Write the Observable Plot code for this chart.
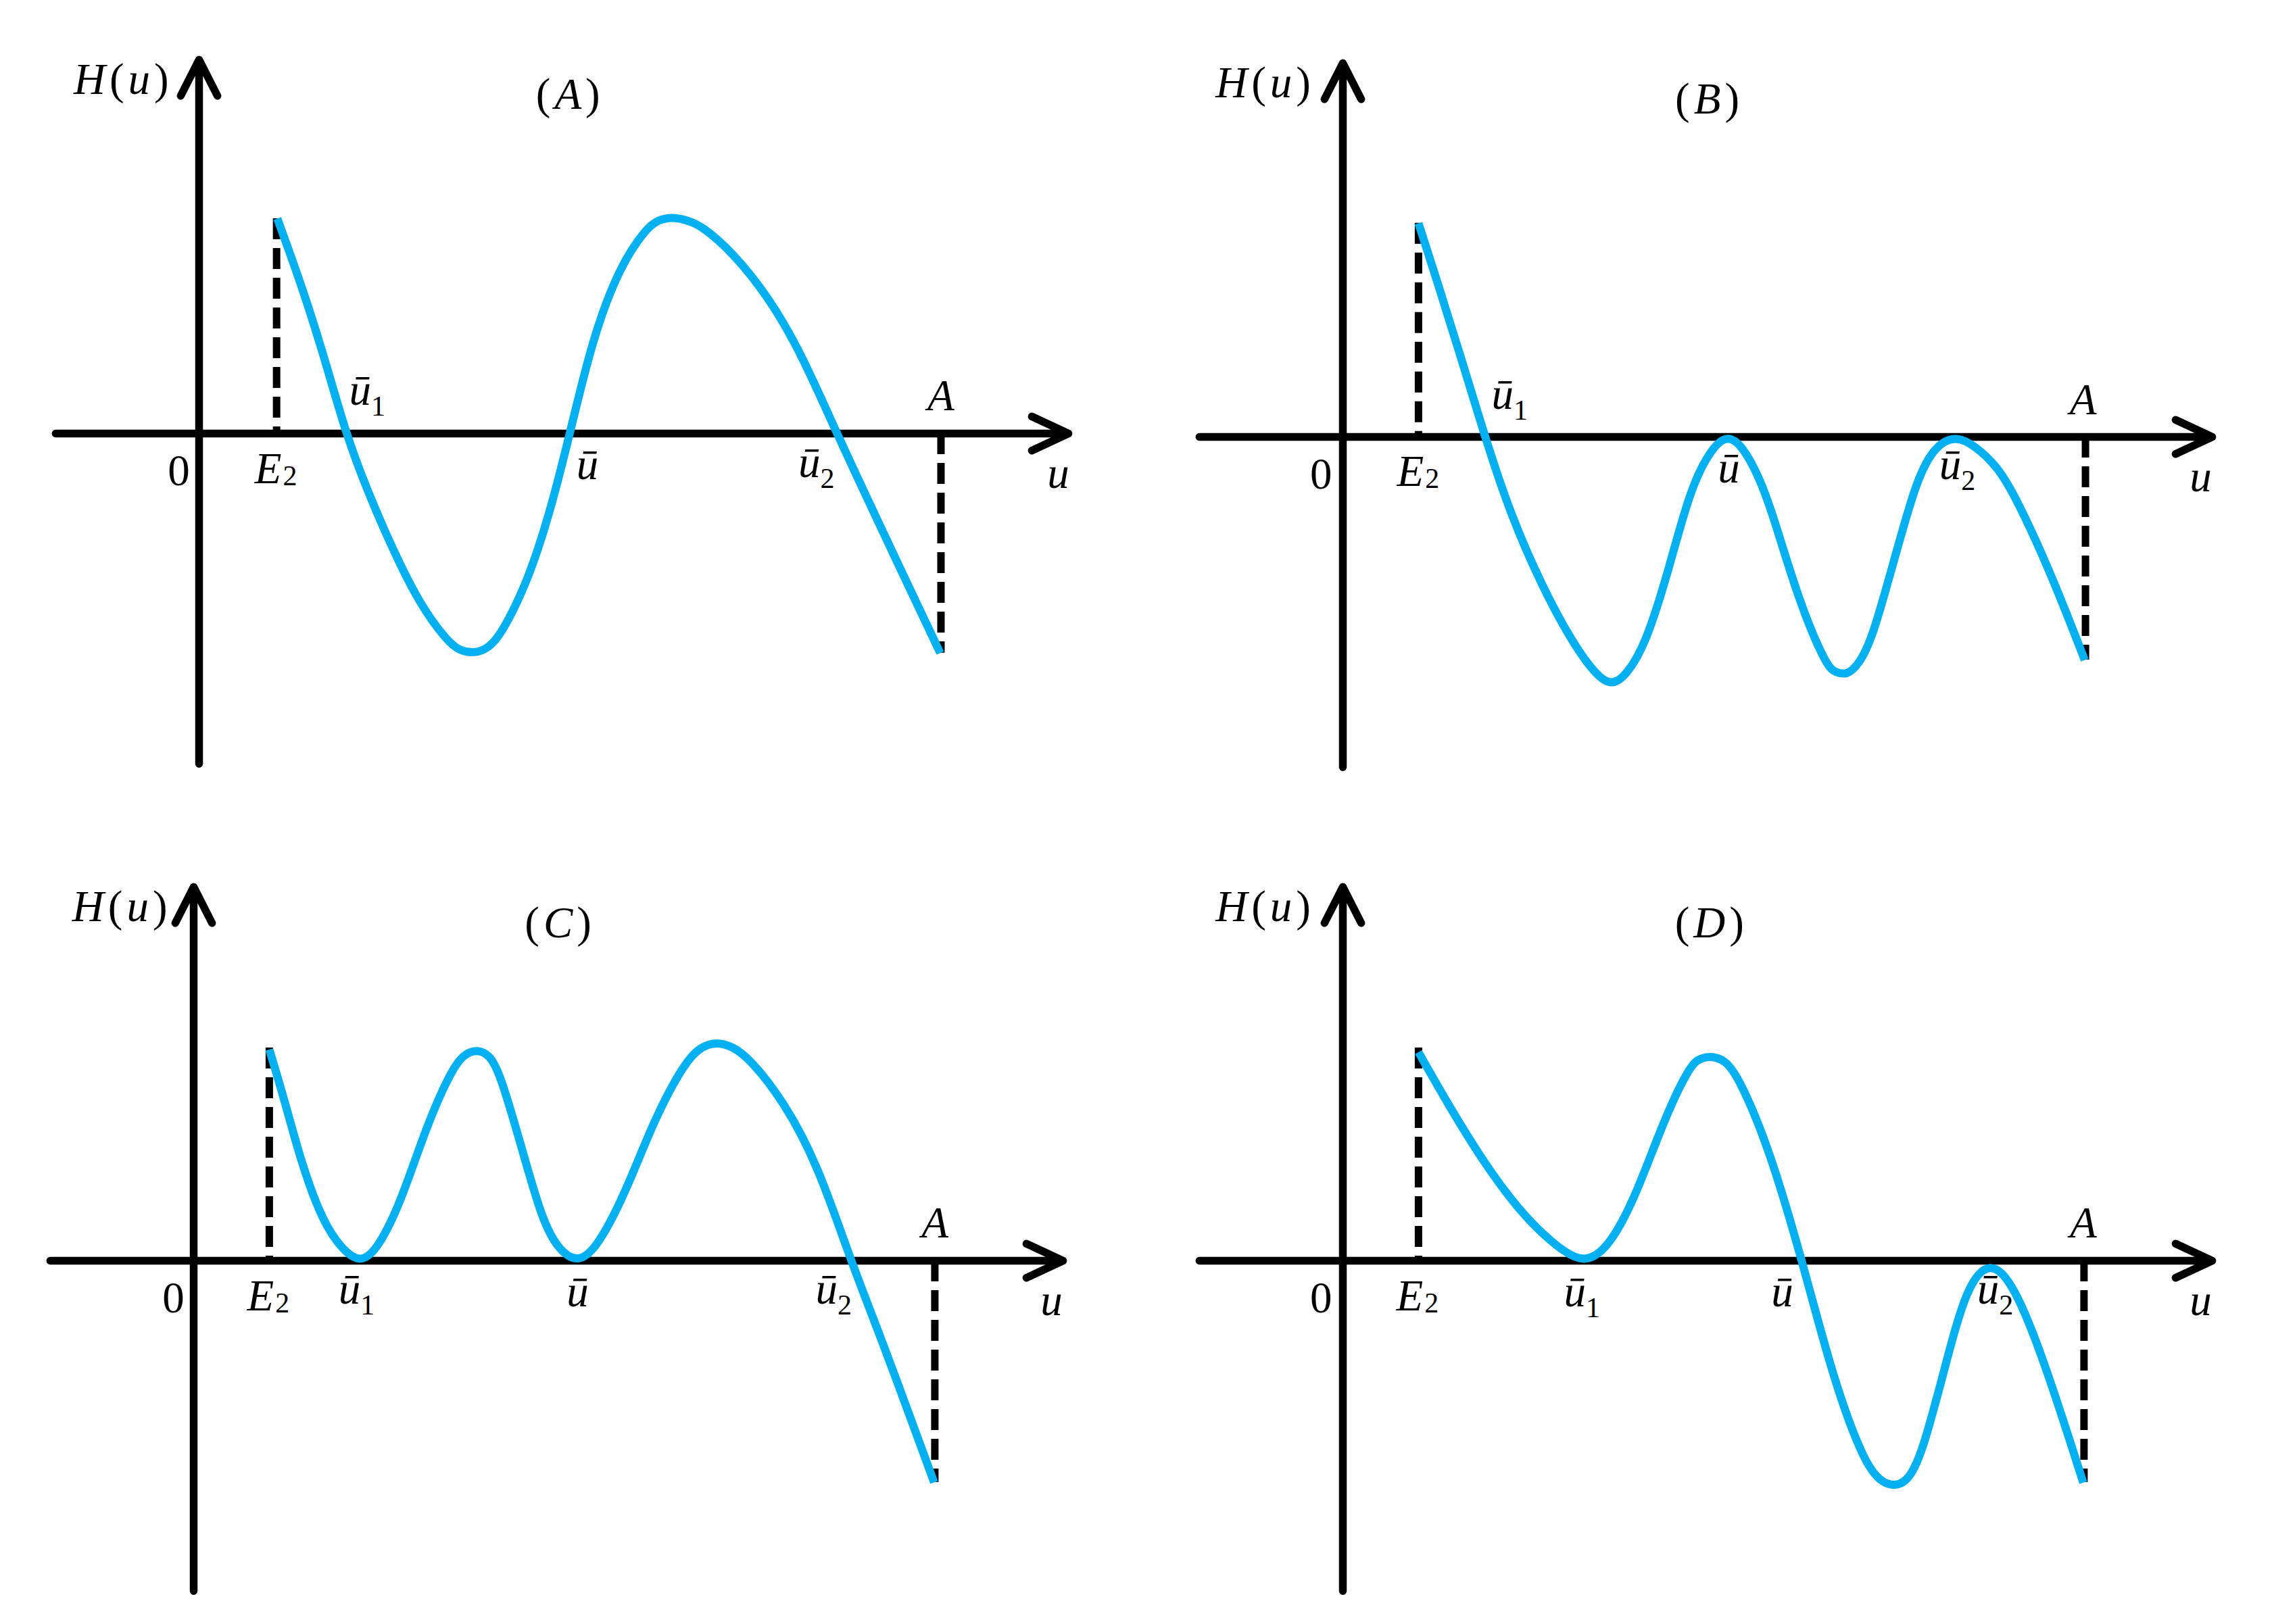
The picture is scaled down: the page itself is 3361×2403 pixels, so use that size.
<!DOCTYPE html>
<html>
<head>
<meta charset="utf-8">
<script src="https://cdn.jsdelivr.net/npm/d3@7"></script>
<script src="https://cdn.jsdelivr.net/npm/@observablehq/plot@0.6"></script>
<style>
  html, body { margin: 0; padding: 0; background: #ffffff; }
  #page { position: relative; width: 3361px; height: 2403px; background: #ffffff; overflow: hidden; }
  .panel { position: absolute; }
  .panel svg { display: block; }
</style>
</head>
<body>
<div id="page"></div>
<script>
// ---------------- data (schematic units) ----------------
// Panel (A)
const uA = [0.54, 0.716, 0.872, 1.013, 1.153, 1.341, 1.528, 1.716, 1.80, 1.903, 2.0, 2.09, 2.278, 2.434, 2.559, 2.715, 2.903, 3.09, 3.17, 3.262, 3.36, 3.465, 3.684, 3.934, 4.152, 4.402, 4.621, 4.871, 5.115];
const hA = [1.484, 1.0, 0.5, 0, -0.375, -0.812, -1.187, -1.437, -1.50, -1.518, -1.48, -1.38, -1.0, -0.5, 0, 0.656, 1.156, 1.421, 1.475, 1.495, 1.475, 1.437, 1.25, 0.937, 0.562, 0, -0.469, -1.0, -1.515];
// Panel (B)
const uB = [0.522, 0.653, 0.809, 0.981, 1.153, 1.371, 1.59, 1.76, 1.862, 1.96, 2.09, 2.246, 2.402, 2.558, 2.658, 2.758, 2.872, 2.965, 3.152, 3.34, 3.40, 3.48, 3.56, 3.652, 3.808, 3.965, 4.09, 4.23, 4.37, 4.51, 4.621, 4.871, 5.12];
const hB = [1.475, 1.068, 0.569, 0, -0.525, -1.025, -1.431, -1.66, -1.715, -1.64, -1.43, -0.931, -0.337, -0.058, 0.01, -0.062, -0.275, -0.525, -1.15, -1.587, -1.625, -1.645, -1.57, -1.4, -0.837, -0.275, -0.06, 0.01, -0.066, -0.2, -0.369, -0.9, -1.54];
// Panel (C)
const uC = [0.522, 0.621, 0.74, 0.889, 1.038, 1.148, 1.258, 1.425, 1.603, 1.782, 1.87, 1.96, 2.04, 2.109, 2.258, 2.407, 2.526, 2.645, 2.77, 2.972, 3.18, 3.389, 3.50, 3.612, 3.72, 3.835, 4.073, 4.311, 4.534, 4.757, 5.11];
const hC = [1.458, 1.131, 0.684, 0.268, 0.062, -0.01, 0.062, 0.387, 0.922, 1.324, 1.43, 1.458, 1.42, 1.309, 0.803, 0.268, 0.068, -0.01, 0.068, 0.446, 0.982, 1.369, 1.478, 1.511, 1.478, 1.398, 1.101, 0.655, 0, -0.565, -1.53];
// Panel (D)
const uD = [0.522, 0.731, 0.969, 1.207, 1.445, 1.66, 1.832, 2.011, 2.219, 2.398, 2.47, 2.552, 2.64, 2.725, 2.934, 3.171, 3.38, 3.588, 3.70, 3.811, 3.91, 4.004, 4.153, 4.302, 4.466, 4.63, 4.839, 5.11];
const hD = [1.44, 1.071, 0.684, 0.357, 0.119, -0.03, 0.089, 0.417, 0.982, 1.354, 1.40, 1.413, 1.38, 1.279, 0.803, 0, -0.803, -1.369, -1.52, -1.562, -1.51, -1.309, -0.744, -0.179, 0.01, -0.16, -0.684, -1.532];

// E2 (left end) and A (right end) of each curve: [u, H]
const e2Ends = [[0.535, 1.484], [0.522, 1.475], [0.522, 1.47], [0.522, 1.47]];
const aEnds = [[5.12, -1.515], [5.125, -1.54], [5.115, -1.53], [5.115, -1.53]];

// Axis extents (schematic units)
const xAxisSpan = [-0.99, 6.0];
const yAxisSpan = [-2.28, 2.58];

// Text labels
const tickLabels = ["0", "E₂", "ū₁", "ū", "ū₂", "A", "u"];
const yLabel = "H(u)";
const panelTitles = ["(A)", "(B)", "(C)", "(D)"];

// Label anchor values per panel (u centre, H baseline), same order as tickLabels
const labelU_A = [-0.14, 0.53, 1.16, 2.68, 4.26, 5.12, 5.93];
const labelH_A = [-0.356, -0.345, 0.20, -0.315, -0.30, 0.163, -0.376];
const labelU_B = [-0.15, 0.52, 1.151, 2.664, 4.241, 5.109, 5.92];
const labelH_B = [-0.356, -0.339, 0.193, -0.313, -0.292, 0.155, -0.376];
const labelU_C = [-0.14, 0.515, 1.124, 2.65, 4.417, 5.116, 5.92];
const labelH_C = [-0.356, -0.345, -0.294, -0.315, -0.294, 0.16, -0.376];
const labelU_D = [-0.15, 0.515, 1.65, 3.032, 4.502, 5.11, 5.92];
const labelH_D = [-0.356, -0.345, -0.315, -0.315, -0.294, 0.16, -0.376];
// H(u) label and panel title positions [u, H]
const yLabelPos = [[-0.537, 2.345], [-0.55, 2.345], [-0.51, 2.345], [-0.55, 2.345]];
const titlePos = [[2.546, 2.24], [2.515, 2.23], [2.515, 2.23], [2.53, 2.23]];

// ---------------- layout ----------------
const UNIT = 214.35;            // px per schematic unit
const FONT = "'Liberation Serif', 'Times New Roman', serif";
const FS = 65;                  // main font size
const SUB_FS = 42;              // subscript font size
const CURVE_COLOR = "#00B0F0";
const panels = [
  {u: uA, h: hA, lu: labelU_A, lh: labelH_A, left: 0,    top: 0,    w: 1680, hgt: 1201, ox: 294, oy: 641},
  {u: uB, h: hB, lu: labelU_B, lh: labelH_B, left: 1680, top: 0,    w: 1681, hgt: 1201, ox: 306, oy: 646},
  {u: uC, h: hC, lu: labelU_C, lh: labelH_C, left: 0,    top: 1201, w: 1680, hgt: 1202, ox: 286, oy: 664},
  {u: uD, h: hD, lu: labelU_D, lh: labelH_D, left: 1680, top: 1201, w: 1681, hgt: 1202, ox: 306, oy: 664}
];

const SVGNS = "http://www.w3.org/2000/svg";
const subMap = {"₀":"0","₁":"1","₂":"2","₃":"3","₄":"4","₅":"5","₆":"6","₇":"7","₈":"8","₉":"9"};
function styleLabel(el) {
  const chars = Array.from(el.textContent);
  el.textContent = "";
  let prev = null;
  chars.forEach((ch, i) => {
    const t = document.createElementNS(SVGNS, "tspan");
    t.setAttribute("font-family", FONT);
    if (subMap[ch]) {
      t.textContent = subMap[ch];
      t.setAttribute("font-size", SUB_FS);
      t.setAttribute("font-style", "normal");
      t.setAttribute("dy", prev === "E" ? 3 : 16);
      t.setAttribute("dx", prev === "E" ? 2 : 0);
    } else {
      t.textContent = ch;
      t.setAttribute("font-style", /[0-9()]/.test(ch) ? "normal" : "italic");
      if (i > 0 && (/[()]/.test(ch) || /[()]/.test(prev))) t.setAttribute("dx", 6);
    }
    el.appendChild(t);
    prev = ch;
  });
}

const page = document.getElementById("page");

panels.forEach((p, k) => {
  const curve = p.u.map((u, i) => ({u, h: p.h[i]}));
  const labels = tickLabels.map((t, i) => ({t, u: p.lu[i], h: p.lh[i]}));
  labels.push({t: yLabel, u: yLabelPos[k][0], h: yLabelPos[k][1]});
  labels.push({t: panelTitles[k], u: titlePos[k][0], h: titlePos[k][1]});

  const svg = Plot.plot({
    width: p.w,
    height: p.hgt,
    margin: 0,
    x: {domain: [-p.ox / UNIT, (p.w - p.ox) / UNIT], axis: null},
    y: {domain: [-(p.hgt - p.oy) / UNIT, p.oy / UNIT], axis: null},
    style: {background: "#ffffff", fontFamily: FONT, fontSize: FS + "px", overflow: "visible", color: "black"},
    marks: [
      // dashed drop lines at E2 and A
      Plot.ruleX([{u: e2Ends[k][0], top: e2Ends[k][1], base: 0}], {
        x: "u", y1: "top", y2: "base", stroke: "black", strokeWidth: 11, strokeDasharray: "31,13"
      }),
      Plot.ruleX([{u: aEnds[k][0], top: 0, base: aEnds[k][1]}], {
        x: "u", y1: "top", y2: "base", stroke: "black", strokeWidth: 11, strokeDasharray: "31,13"
      }),
      // axes with arrowheads
      Plot.arrow([{x1: xAxisSpan[0], y1: 0, x2: xAxisSpan[1], y2: 0}], {
        x1: "x1", y1: "y1", x2: "x2", y2: "y2",
        stroke: "black", strokeWidth: 11.5, headLength: 7.8, headAngle: 50,
        strokeLinejoin: "round", strokeLinecap: "round"
      }),
      Plot.arrow([{x1: 0, y1: yAxisSpan[0], x2: 0, y2: yAxisSpan[1]}], {
        x1: "x1", y1: "y1", x2: "x2", y2: "y2",
        stroke: "black", strokeWidth: 11.5, headLength: 7.8, headAngle: 54,
        strokeLinejoin: "round", strokeLinecap: "round"
      }),
      // the curve H(u)
      Plot.line(curve, {
        x: "u", y: "h", curve: "basis",
        stroke: CURVE_COLOR, strokeWidth: 12, strokeLinecap: "butt", strokeLinejoin: "round"
      }),
      // labels
      Plot.text(labels, {
        x: "u", y: "h", text: "t",
        textAnchor: "middle", lineAnchor: "bottom",
        fontSize: FS, fontFamily: FONT, fill: "black"
      })
    ]
  });

  svg.querySelectorAll('g[aria-label="text"] text').forEach(styleLabel);

  const holder = document.createElement("div");
  holder.className = "panel";
  holder.style.left = p.left + "px";
  holder.style.top = p.top + "px";
  holder.appendChild(svg);
  page.appendChild(holder);
});
</script>
</body>
</html>
